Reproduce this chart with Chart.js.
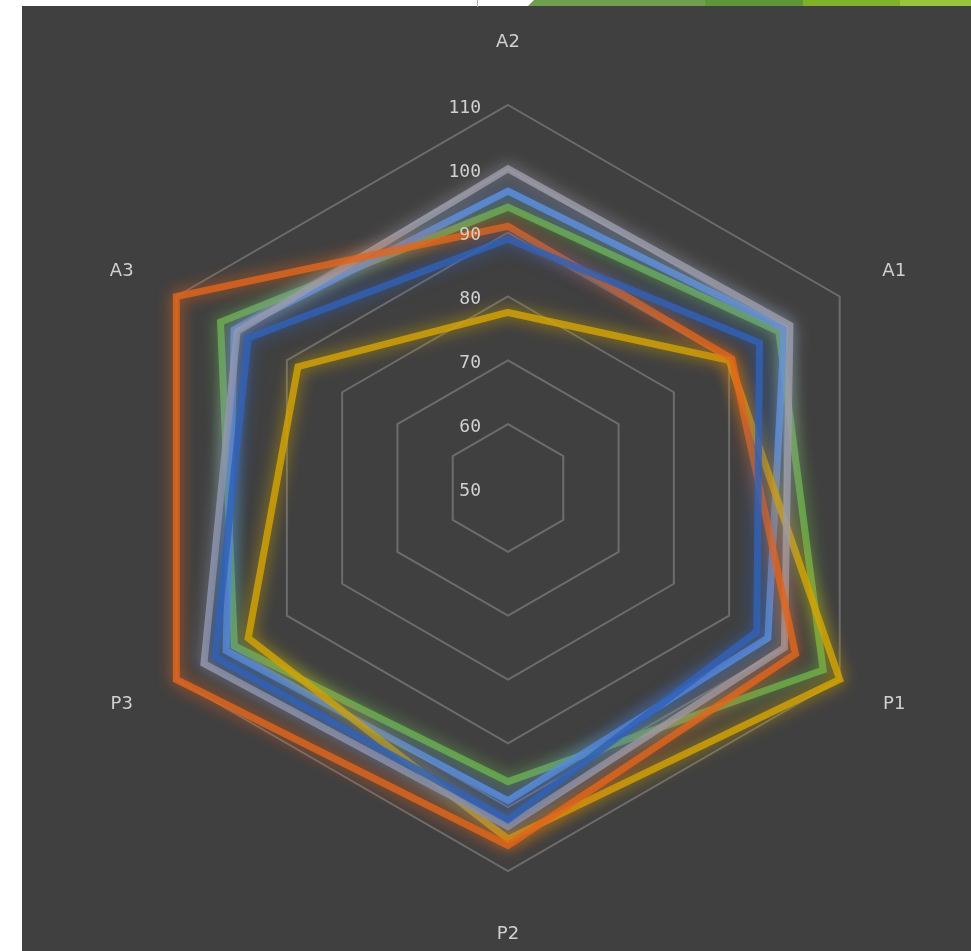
<!DOCTYPE html>
<html>
<head>
<meta charset="utf-8">
<script src="https://cdn.jsdelivr.net/npm/chart.js@4.4.1/dist/chart.umd.min.js"></script>
<style>
  html, body { margin: 0; padding: 0; background: #ffffff; }
  #page { position: relative; width: 971px; height: 951px; overflow: hidden; background: #ffffff; }
  #panel { position: absolute; left: 22px; top: 6px; right: 0; bottom: 0; background: #404040; }
  #band { position: absolute; left: 528px; top: 0; width: 443px; height: 6px;
          background: linear-gradient(90deg, #6f9e4f 0%, #6f9e4f 40%, #5f9637 40%, #5f9637 62%, #7fb12b 62%, #7fb12b 84%, #98c53e 84%);
          clip-path: polygon(6px 0, 100% 0, 100% 100%, 0 100%); }
  #tick { position: absolute; left: 477px; top: 0; width: 1px; height: 7px; background: #b0b0b0; }
  #wrap { position: absolute; left: 0; top: 0; width: 971px; height: 951px; }
</style>
</head>
<body>
<div id="page">
  <div id="panel"></div>
  <div id="band"></div>
  <div id="tick"></div>
  <div id="wrap"><canvas id="radar" width="971" height="951"></canvas></div>
</div>
<script>
// Axes, clockwise from the top
const axes = ['A2', 'A1', 'P1', 'P2', 'P3', 'A3'];

// Scale ticks
const tickValues = [50, 60, 70, 80, 90, 100, 110];

// Series values, in axis order
const seriesBlue      = [89, 95.5, 95, 102, 103, 97];
const seriesOrange    = [91, 90.5, 102, 106, 110, 110];
const seriesGray      = [100, 101, 100, 103, 105, 99];
const seriesGold      = [77.5, 90, 110, 105, 97, 88];
const seriesLightBlue = [96.5, 100, 97, 99, 101, 99.5];
const seriesGreen     = [94, 99, 107, 96, 99.5, 102];

const seriesColors = {
  blue: '#3161b8',
  orange: '#e3651b',
  gray: '#9c9cab',
  gold: '#d3a500',
  lightBlue: '#5b90e4',
  green: '#6db24a'
};

function series(label, data, color) {
  return {
    label, data,
    borderColor: color,
    backgroundColor: 'rgba(0,0,0,0)',
    borderWidth: 7,
    pointRadius: 0,
    fill: false,
    tension: 0
  };
}

// Soft glow around each series line
const glow = {
  id: 'glow',
  beforeDatasetDraw(chart, args) {
    const ctx = chart.ctx;
    ctx.save();
    ctx.shadowColor = args.meta.dataset.options.borderColor;
    ctx.shadowBlur = 16;
    ctx.globalAlpha = 0.82;
  },
  afterDatasetDraw(chart) {
    chart.ctx.restore();
  }
};

// Value labels left of the vertical axis, axis names outside the outer ring
const labels = {
  id: 'labels',
  afterDraw(chart) {
    const ctx = chart.ctx;
    const scale = chart.scales.r;
    const cx = scale.xCenter, cy = scale.yCenter;
    ctx.save();
    ctx.fillStyle = '#d0d0d0';
    ctx.font = '18px "DejaVu Sans Mono"';
    ctx.textAlign = 'right';
    ctx.textBaseline = 'middle';
    tickValues.forEach(v => {
      const d = scale.getDistanceFromCenterForValue(v);
      ctx.fillText(String(v), cx - 27, cy - d + 3);
    });
    ctx.font = '18px "DejaVu Sans"';
    ctx.textAlign = 'center';
    const outer = scale.getDistanceFromCenterForValue(110);
    axes.forEach((name, i) => {
      const p = scale.getPointPosition(i, outer + 63);
      const vertical = Math.abs(p.x - cx) < 1;
      const y = vertical ? p.y : cy + (p.y - cy) * 0.97;
      ctx.fillText(name, p.x, y);
    });
    ctx.restore();
  }
};

new Chart(document.getElementById('radar'), {
  type: 'radar',
  data: {
    labels: axes,
    datasets: [
      series('Series 1', seriesBlue, seriesColors.blue),
      series('Series 2', seriesOrange, seriesColors.orange),
      series('Series 3', seriesGray, seriesColors.gray),
      series('Series 4', seriesGold, seriesColors.gold),
      series('Series 5', seriesLightBlue, seriesColors.lightBlue),
      series('Series 6', seriesGreen, seriesColors.green)
    ]
  },
  options: {
    responsive: false,
    animation: false,
    layout: { padding: { left: 125, top: 105, right: 80, bottom: 80 } },
    plugins: { legend: { display: false }, tooltip: { enabled: false } },
    scales: {
      r: {
        min: 50,
        max: 110,
        ticks: { display: false, stepSize: 10 },
        grid: { color: '#6c6c6c', lineWidth: 2 },
        angleLines: { display: false },
        pointLabels: { display: false }
      }
    }
  },
  plugins: [glow, labels]
});
</script>
</body>
</html>
